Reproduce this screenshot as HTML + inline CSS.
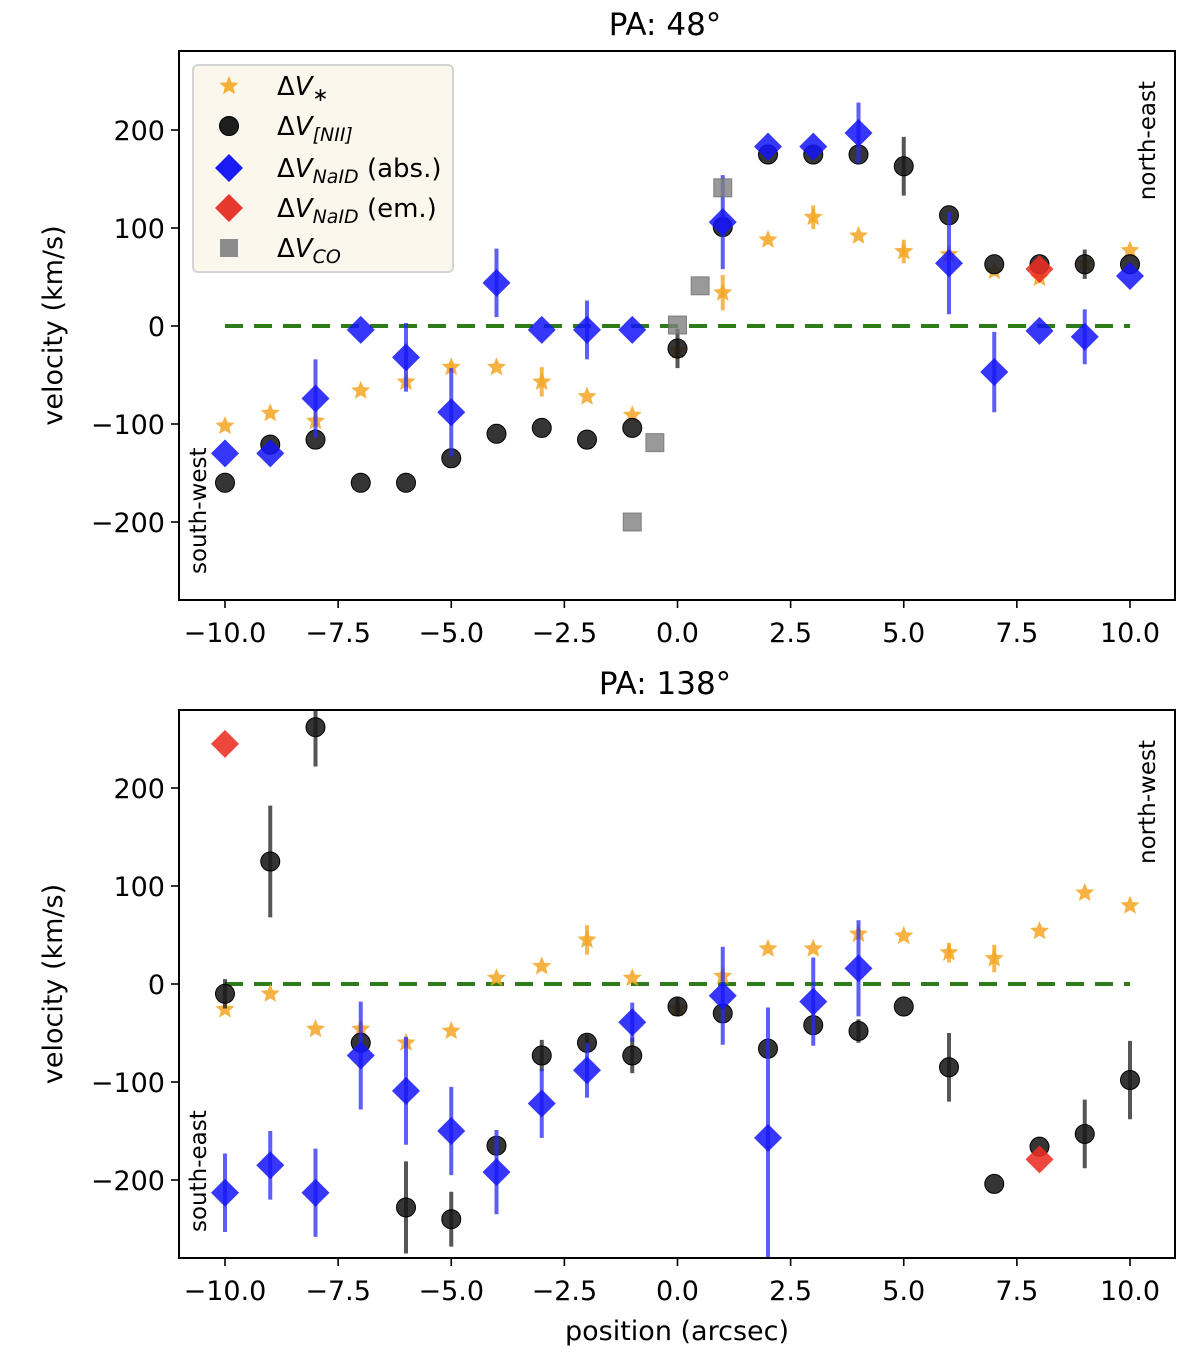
<!DOCTYPE html>
<html><head><meta charset="utf-8">
<style>
html,body{margin:0;padding:0;background:#fff;}
svg{display:block;font-family:"DejaVu Sans","Liberation Sans",sans-serif;}
</style></head>
<body>
<svg id="chart" width="1200" height="1356" viewBox="0 0 1200 1356" xmlns="http://www.w3.org/2000/svg"></svg>
<script>
const positions = [-10,-9,-8,-7,-6,-5,-4,-3,-2,-1,0,1,2,3,4,5,6,7,8,9,10];
const xTicks = [-10,-7.5,-5,-2.5,0,2.5,5,7.5,10];
const xTickLabels = ["\u221210.0","\u22127.5","\u22125.0","\u22122.5","0.0","2.5","5.0","7.5","10.0"];
const yTicks = [-200,-100,0,100,200];
const yTickLabels = ["\u2212200","\u2212100","0","100","200"];

// PA 48
const starTop = [-102,-89,-97,-66,-57,-42,-42,-57,-72,-91,-25,34,88,111,92,76,73,56,49,64,77];
const starTopErr = [0,0,5,0,0,5,0,15,0,0,0,18,0,12,0,12,0,0,0,0,0];
const niiTop = [-160,-121,-116,-160,-160,-135,-110,-104,-116,-104,-23,101,175,175,175,163,113,63,63,63,63];
const niiTopErr = [0,0,0,0,0,0,0,0,0,0,20,0,0,0,0,30,0,0,0,15,0];
const naTopX = [-10,-9,-8,-7,-6,-5,-4,-3,-2,-1,1,2,3,4,6,7,8,9,10];
const naTop = [-130,-130,-74,-4,-32,-88,44,-4,-4,-4,106,183,183,197,64,-47,-5,-11,51];
const naTopErr = [0,0,40,0,35,45,35,0,30,0,48,0,0,31,52,41,0,28,0];
const naEmTopX = [8];
const naEmTop = [58];
const coX = [-1,-0.5,0,0.5,1];
const coTop = [-200,-119,1,41,141];

// PA 138
const starBot = [-26,-10,-46,-46,-60,-48,6,18,45,6,-25,8,36,36,51,49,32,26,54,93,80];
const starBotErr = [0,0,0,5,0,0,0,0,15,0,0,0,0,0,0,0,10,14,0,0,0];
const niiBot = [-10,125,262,-60,-228,-240,-165,-73,-60,-73,-23,-30,-66,-42,-48,-23,-85,-204,-166,-153,-98];
const niiBotErr = [15,57,40,0,47,28,0,16,8,18,10,0,0,0,12,0,35,0,0,35,40];
const naBotX = [-10,-9,-8,-7,-6,-5,-4,-3,-2,-1,1,2,3,4];
const naBot = [-213,-185,-213,-73,-109,-150,-192,-122,-88,-39,-12,-157,-18,16];
const naBotErr = [40,35,45,55,55,45,43,35,28,20,50,133,45,49];
const naEmBotX = [-10,8];
const naEmBot = [245,-179];

const NS="http://www.w3.org/2000/svg";
const svg=document.getElementById('chart');
function mk(tag,attrs,parent){const e=document.createElementNS(NS,tag);for(const k in attrs)e.setAttribute(k,attrs[k]);(parent||svg).appendChild(e);return e;}

const X0=179,X1=1175;
function xs(v){return 225+(v+10)*45.25;}
function makeY(zeroY){return v=>zeroY-v*0.98;}

function starPath(cx,cy,r){let d="";for(let i=0;i<10;i++){const a=-Math.PI/2+i*Math.PI/5;const rr=i%2?r*0.45:r;d+=(i?"L":"M")+(cx+rr*Math.cos(a)).toFixed(1)+","+(cy+rr*Math.sin(a)).toFixed(1);}return d+"Z";}

const defs=mk('defs',{});
let clipN=0;

function panel(top,bottom,zeroY,title,sideL,sideR,series){
  const ys=makeY(zeroY);
  const g=mk('g',{});
  
  
  const t=mk('text',{x:665,y:top-16,'font-size':31,'text-anchor':'middle',fill:'#000'},g);
  t.textContent="PA: "+title;
  
  
  mk('rect',{x:X0,y:top,width:X1-X0,height:bottom-top,fill:'#fff',stroke:'#000','stroke-width':2},g);
  xTicks.forEach((v,i)=>{
    const x=xs(v);
    mk('line',{x1:x,x2:x,y1:bottom,y2:bottom+8,stroke:'#000','stroke-width':1.6},g);
    const tl=mk('text',{x:x,y:bottom+42,'font-size':27,'text-anchor':'middle',fill:'#000'},g);
    tl.textContent=xTickLabels[i];
    
    
  });
  yTicks.forEach((v,i)=>{
    const y=ys(v);
    mk('line',{x1:X0-8,x2:X0,y1:y,y2:y,stroke:'#000','stroke-width':1.6},g);
    const tl=mk('text',{x:X0-14,y:y+10,'font-size':27,'text-anchor':'end',fill:'#000'},g);
    tl.textContent=yTickLabels[i];
    
    
  });
  const yl=mk('text',{x:0,y:0,'font-size':27,'text-anchor':'middle',fill:'#000',transform:`translate(62,${(top+bottom)/2}) rotate(-90)`},g);
  yl.textContent="velocity (km/s)";
  
  
  const sl=mk('text',{x:0,y:0,'font-size':23,fill:'#000',transform:`translate(206,${bottom-26}) rotate(-90)`},g);
  sl.textContent=sideL;
  
  
  const sr=mk('text',{x:0,y:0,'font-size':23,'text-anchor':'end',fill:'#000',transform:`translate(1155,${top+30}) rotate(-90)`},g);
  sr.textContent=sideR;
  
  
  const id='clip'+(clipN++);
  const cp=mk('clipPath',{id:id},defs);
  mk('rect',{x:X0+1,y:top+1,width:X1-X0-2,height:bottom-top-2},cp);
  const pg=mk('g',{'clip-path':`url(#${id})`},g);
  
  
  const zl=mk('line',{x1:xs(-10),x2:xs(10),y1:ys(0),y2:ys(0),stroke:'#2e7d1a','stroke-width':4,'stroke-dasharray':'18,11'},pg);
  
  
  series(pg,ys);
}

function errbar(g,x,y1,y2,color){if(y1===y2)return;const l=mk('line',{x1:x,x2:x,y1:y1,y2:y2,stroke:color,'stroke-width':4},g);}
function stars(g,ys,xsArr,vals,errs){vals.forEach((v,i)=>{const x=xs(xsArr[i]),y=ys(v);errbar(g,x,ys(v-errs[i]),ys(v+errs[i]),'rgba(245,166,35,0.8)');const p=mk('path',{d:starPath(x,y,10),fill:'rgba(245,166,35,0.85)'},g);});}
function circles(g,ys,xsArr,vals,errs){vals.forEach((v,i)=>{const x=xs(xsArr[i]),y=ys(v);errbar(g,x,ys(v-errs[i]),ys(v+errs[i]),'rgba(30,30,30,0.75)');const c=mk('circle',{cx:x,cy:y,r:9.5,fill:'rgba(25,25,25,0.88)',stroke:'#000','stroke-width':1},g);});}
function diamonds(g,ys,xsArr,vals,errs,color,name){vals.forEach((v,i)=>{const x=xs(xsArr[i]),y=ys(v);if(errs)errbar(g,x,ys(v-errs[i]),ys(v+errs[i]),'rgba(40,40,245,0.75)');const d=mk('path',{d:`M${x},${y-14}L${x+14},${y}L${x},${y+14}L${x-14},${y}Z`,fill:color},g);});}
function squares(g,ys,xsArr,vals){vals.forEach((v,i)=>{const x=xs(xsArr[i]),y=ys(v);const s=mk('rect',{x:x-9,y:y-9,width:18,height:18,fill:'rgba(128,128,128,0.8)',stroke:'rgba(110,110,110,0.8)','stroke-width':1},g);});}

panel(51,600,326,"48°","south-west","north-east",(g,ys)=>{
  stars(g,ys,positions,starTop,starTopErr);
  circles(g,ys,positions,niiTop,niiTopErr);
  diamonds(g,ys,naTopX,naTop,naTopErr,'rgba(20,20,250,0.85)','naid-abs-point');
  diamonds(g,ys,naEmTopX,naEmTop,null,'rgba(235,45,35,0.88)','naid-em-point');
  squares(g,ys,coX,coTop);
});
panel(710,1258,984,"138°","south-east","north-west",(g,ys)=>{
  stars(g,ys,positions,starBot,starBotErr);
  circles(g,ys,positions,niiBot,niiBotErr);
  diamonds(g,ys,naBotX,naBot,naBotErr,'rgba(20,20,250,0.85)','naid-abs-point');
  diamonds(g,ys,naEmBotX,naEmBot,null,'rgba(235,45,35,0.88)','naid-em-point');
});

const xl=mk('text',{x:677,y:1340,'font-size':27,'text-anchor':'middle',fill:'#000'});
xl.textContent="position (arcsec)";



// legend
const lg=mk('g',{});


mk('rect',{x:193,y:65,width:260,height:207,rx:5,fill:'#fbf7ec',stroke:'#d4d4d4','stroke-width':2},lg);
const lx=229, tx=277;
const rows=[86,126,168,208,248];
mk('path',{d:starPath(lx,rows[0],10),fill:'rgba(245,166,35,0.9)'},lg);
mk('circle',{cx:lx,cy:rows[1],r:9.5,fill:'#1e1e1e',stroke:'#000'},lg);
mk('path',{d:`M${lx},${rows[2]-14}L${lx+14},${rows[2]}L${lx},${rows[2]+14}L${lx-14},${rows[2]}Z`,fill:'#1a1af5'},lg);
mk('path',{d:`M${lx},${rows[3]-14}L${lx+14},${rows[3]}L${lx},${rows[3]+14}L${lx-14},${rows[3]}Z`,fill:'#e8382e'},lg);
mk('rect',{x:lx-9,y:rows[4]-9,width:18,height:18,fill:'#8c8c8c'},lg);
const labels=[["V","∗",""],["V","[NII]",""],["V","NaID"," (abs.)"],["V","NaID"," (em.)"],["V","CO",""]];
labels.forEach((l,i)=>{
  const t=mk('text',{x:tx,y:rows[i]+9,'font-size':26,fill:'#000'},lg);
  
  
  const a=mk('tspan',{},t);a.textContent="Δ";
  const b=mk('tspan',{'font-style':'italic'},t);b.textContent=l[0];
  const c=mk('tspan',{'font-size':19,dy:6,'font-style':i===0?'normal':'italic'},t);c.textContent=l[1];
  if(l[2]){const d=mk('tspan',{dy:-6},t);d.textContent=l[2];}
});
</script>
</body></html>
